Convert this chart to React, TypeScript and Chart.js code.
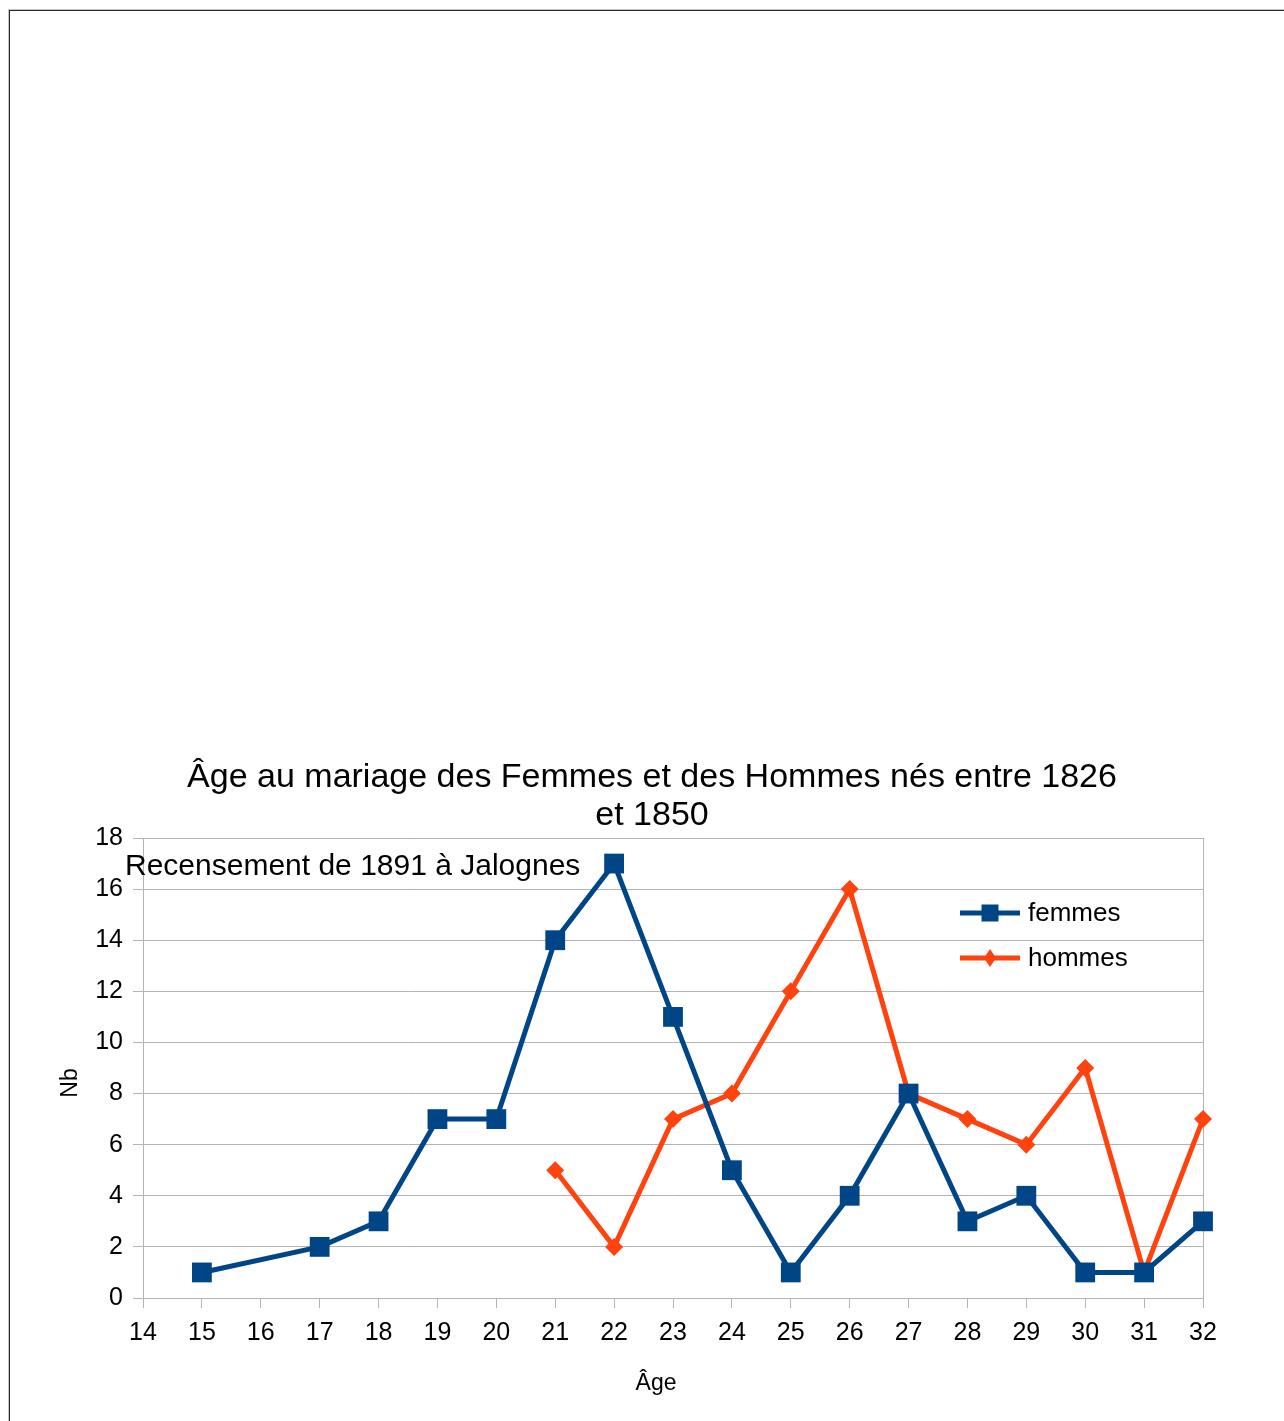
import React, { useEffect, useRef } from 'react';
import { Chart, registerables } from 'chart.js';

Chart.register(...registerables);

const titleLines = ['Âge au mariage des Femmes et des Hommes nés entre 1826', 'et 1850'];
const subtitle = 'Recensement de 1891 à Jalognes';
const xTitle = 'Âge';
const yTitle = 'Nb';

const femmesAges = [15, 17, 18, 19, 20, 21, 22, 23, 24, 25, 26, 27, 28, 29, 30, 31, 32];
const femmesValues = [1, 2, 3, 7, 7, 14, 17, 11, 5, 1, 4, 8, 3, 4, 1, 1, 3];
const hommesAges = [21, 22, 23, 24, 25, 26, 27, 28, 29, 30, 31, 32];
const hommesValues = [5, 2, 7, 8, 12, 16, 8, 7, 6, 9, 1, 7];

const seriesNames = ['femmes', 'hommes'];
const seriesColors = ['#004586', '#ff420e'];

const xMin = 14;
const xMax = 32;
const yMin = 0;
const yMax = 18;
const yStep = 2;

const FONT = '"Liberation Sans", Arial, sans-serif';
const GRID = '#b3b3b3';

const overlayPlugin = {
  id: 'overlay',
  afterDraw(chart: any) {
    const ctx = chart.ctx;
    ctx.save();
    ctx.fillStyle = '#000';
    // title
    ctx.font = `34px ${FONT}`;
    ctx.textAlign = 'center';
    ctx.textBaseline = 'alphabetic';
    titleLines.forEach((t, i) => ctx.fillText(t, 652, 787 + i * 38));
    // subtitle inside plot
    ctx.font = `30px ${FONT}`;
    ctx.textAlign = 'left';
    ctx.fillText(subtitle, 125, 875);
    // axis titles
    ctx.font = `23px ${FONT}`;
    ctx.textAlign = 'center';
    ctx.fillText(xTitle, 656, 1390);
    ctx.save();
    ctx.translate(77, 1083);
    ctx.rotate(-Math.PI / 2);
    ctx.fillText(yTitle, 0, 0);
    ctx.restore();
    // legend
    const lx = 960;
    const rows = [913, 958];
    rows.forEach((ly, i) => {
      ctx.strokeStyle = seriesColors[i];
      ctx.fillStyle = seriesColors[i];
      ctx.lineWidth = 5;
      ctx.beginPath();
      ctx.moveTo(lx, ly);
      ctx.lineTo(lx + 60, ly);
      ctx.stroke();
      const cx = lx + 30;
      if (i === 0) {
        ctx.fillRect(cx - 8.5, ly - 8.5, 17, 17);
      } else {
        ctx.beginPath();
        ctx.moveTo(cx, ly - 9);
        ctx.lineTo(cx + 6, ly);
        ctx.lineTo(cx, ly + 9);
        ctx.lineTo(cx - 6, ly);
        ctx.closePath();
        ctx.fill();
      }
      ctx.fillStyle = '#000';
      ctx.font = `26px ${FONT}`;
      ctx.textAlign = 'left';
      ctx.textBaseline = 'middle';
      ctx.fillText(seriesNames[i], 1028, ly + 1);
    });
    ctx.restore();
  },
};

export default function App() {
  const ref = useRef<HTMLCanvasElement | null>(null);

  useEffect(() => {
    if (!ref.current) return;
    const chart = new Chart(ref.current, {
      type: 'line',
      data: {
        datasets: [
          {
            label: seriesNames[0],
            data: femmesAges.map((x, i) => ({ x, y: femmesValues[i] })),
            borderColor: seriesColors[0],
            backgroundColor: seriesColors[0],
            borderWidth: 5,
            pointStyle: 'rect',
            pointRadius: 14,
            pointBorderWidth: 0,
            tension: 0,
            clip: false,
          },
          {
            label: seriesNames[1],
            data: hommesAges.map((x, i) => ({ x, y: hommesValues[i] })),
            borderColor: seriesColors[1],
            backgroundColor: seriesColors[1],
            borderWidth: 5,
            pointStyle: 'rectRot',
            pointRadius: 9,
            pointBorderWidth: 0,
            tension: 0,
            clip: false,
          },
        ],
      },
      options: {
        responsive: false,
        animation: false,
        layout: { padding: { left: 40, right: 81, top: 838, bottom: 10 } },
        plugins: {
          legend: { display: false },
          title: { display: false },
          tooltip: { enabled: false },
        },
        scales: {
          x: {
            type: 'linear',
            min: xMin,
            max: xMax,
            afterFit: (s: any) => {
              s.height = 1421 - 10 - 1298;
            },
            ticks: {
              stepSize: 1,
              color: '#000',
              font: { family: FONT, size: 25 },
              padding: 10,
              maxRotation: 0,
              autoSkip: false,
            },
            grid: {
              color: (c: any) => (c.tick && c.tick.value === xMax ? GRID : 'rgba(0,0,0,0)'),
              tickColor: GRID,
              tickLength: 10,
              lineWidth: 1,
            },
            border: { display: true, color: GRID, width: 1 },
          },
          y: {
            min: yMin,
            max: yMax,
            afterFit: (s: any) => {
              s.width = 143 - 40;
            },
            ticks: {
              stepSize: yStep,
              color: '#000',
              font: { family: FONT, size: 25 },
              padding: 10,
            },
            grid: { color: GRID, tickLength: 10, lineWidth: 1 },
            border: { display: true, color: GRID, width: 1 },
          },
        },
      },
      plugins: [overlayPlugin],
    } as any);
    return () => chart.destroy();
  }, []);

  return (
    <div style={{ position: 'fixed', inset: 0, overflow: 'hidden', background: '#fff' }}>
      <div
        style={{
          position: 'absolute',
          left: 8,
          top: 9,
          width: 1400,
          height: 1500,
          borderLeft: '1px solid #c4c4c4',
          borderTop: '1px solid #c4c4c4',
        }}
      >
        <div
          style={{
            width: '100%',
            height: '100%',
            borderLeft: '1px solid #2b2b2b',
            borderTop: '1px solid #2b2b2b',
          }}
        />
      </div>
      <canvas
        ref={ref}
        width={1284}
        height={1421}
        style={{ position: 'absolute', left: 0, top: 0, width: 1284, height: 1421 }}
      />
    </div>
  );
}
